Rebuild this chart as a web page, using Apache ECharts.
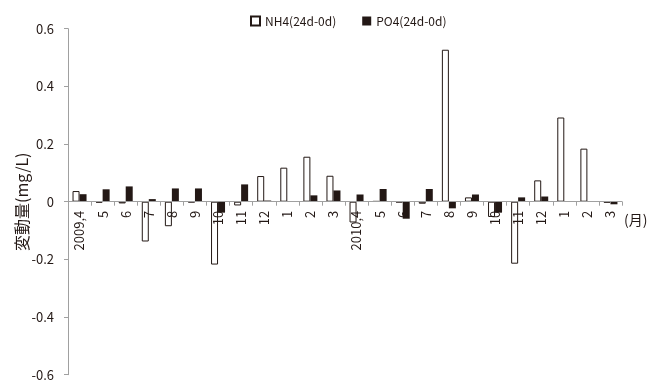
<!DOCTYPE html>
<html><head><meta charset="utf-8">
<script src="https://cdn.jsdelivr.net/npm/echarts@6/dist/echarts.min.js"></script>
<style>html,body{margin:0;padding:0;background:#fff}#c{width:659px;height:383px}</style>
</head><body><div id="c"></div>
<script>
const categories = ['2009,4','5','6','7','8','9','10','11','12','1','2','3','2010,4','5','6','7','8','9','10','11','12','1','2','3'];
const nh4 = [0.037,-0.003,-0.006,-0.138,-0.085,-0.002,-0.218,-0.013,0.089,0.118,0.156,0.09,-0.072,0.002,-0.002,-0.007,0.527,0.015,-0.053,-0.215,0.074,0.292,0.184,-0.003];
const po4 = [0.026,0.043,0.053,0.009,0.046,0.046,-0.038,0.06,0.004,0.001,0.022,0.039,0.025,0.044,-0.059,0.044,-0.023,0.025,-0.038,0.015,0.018,0.001,0.002,-0.009];
const yName = '変動量(mg/L)';
const xUnit = '(月)';
const font = '"Noto Sans CJK JP", "Noto Sans", sans-serif';
const chart = echarts.init(document.getElementById('c'), null, {renderer:'canvas'});
chart.setOption({
  animation:false,
  textStyle:{fontFamily:font},
  legend:{top:10,left:245,itemWidth:9,itemHeight:9,itemGap:26,itemTextGap:4,icon:'rect',
    textStyle:{fontFamily:font,fontSize:12,color:'#231815'},
    data:['NH4(24d-0d)','PO4(24d-0d)']},
  grid:{left:68,right:37,top:28.7,bottom:8.3,containLabel:false,outerBoundsMode:'none'},
  xAxis:{type:'category',data:categories,position:'bottom',offset:-173,z:5,
    axisLine:{onZero:false,lineStyle:{color:'#a0a0a0',width:1}},
    axisTick:{show:true,interval:0,alignWithLabel:false,length:4,lineStyle:{color:'#a0a0a0'}},
    axisLabel:{interval:0,rotate:90,margin:9,fontSize:13,color:'#231815',fontFamily:font}},
  yAxis:{type:'value',min:-0.6,max:0.6,interval:0.2,
    name:yName,nameLocation:'middle',nameGap:38,nameRotate:90,nameMoveOverlap:false,
    nameTextStyle:{fontFamily:font,fontSize:16,color:'#231815'},
    splitLine:{show:false},
    axisLine:{show:true,lineStyle:{color:'#a0a0a0'}},
    axisTick:{show:true,length:4,lineStyle:{color:'#a0a0a0'}},
    axisLabel:{fontSize:13,color:'#231815',margin:14,fontFamily:font,
      formatter:function(v){return (Math.round(v*10)/10).toString();}}},
  graphic:[{type:'text',left:624,top:213,style:{text:xUnit,font:'14px '+font,fill:'#231815'}}],
  series:[
    {name:'NH4(24d-0d)',type:'bar',data:nh4,barWidth:7,barGap:'0%',
      itemStyle:{color:'#ffffff',borderColor:'#231815',borderWidth:1}},
    {name:'PO4(24d-0d)',type:'bar',data:po4,barWidth:7,barGap:'0%',
      itemStyle:{color:'#231815'}}
  ]
});
</script></body></html>
